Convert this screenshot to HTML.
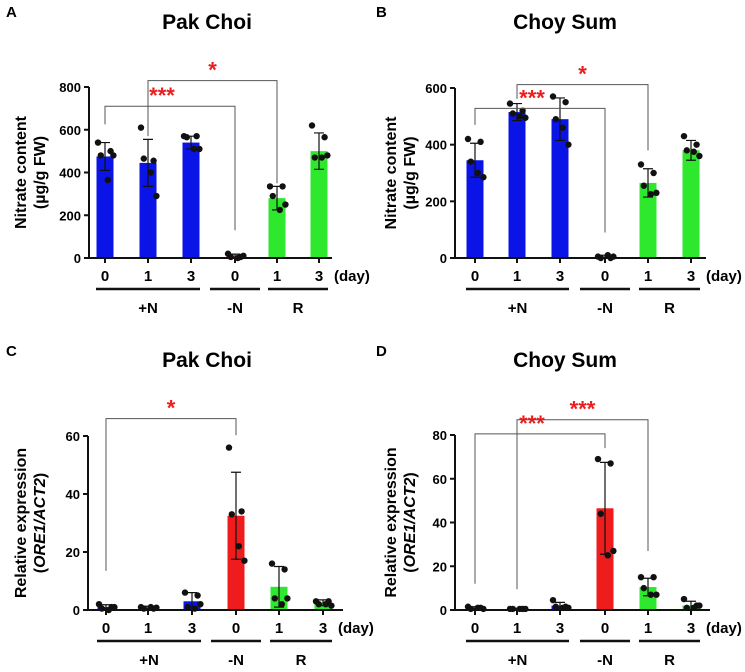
<!DOCTYPE html>
<html><head><meta charset="utf-8"><style>
html,body{margin:0;padding:0;background:#fff;}
svg{display:block;font-family:"Liberation Sans",Arial,sans-serif;font-weight:bold;}
</style></head><body>
<svg id="fig" width="745" height="672" viewBox="0 0 745 672"></svg>
<script>
const categories = ["0","1","3","0","1","3"];
const groupLabels = ["+N","-N","R"];
const barColors = ["#0a14e6","#0a14e6","#0a14e6","#ee1c1c","#2ee82e","#2ee82e"];

const aMeans = [475,445,540,8,280,500];
const aErr = [65,110,30,10,55,85];
const aPts = [[540,500,480,365,480],[610,455,465,400,290],[570,570,565,510,510],[20,5,5,0,10],[335,335,290,225,250],[620,565,470,470,480]];
const aTicks = [0,200,400,600,800];

const bMeans = [345,515,490,5,265,380];
const bErr = [60,30,75,5,50,35];
const bPts = [[420,410,340,300,285],[545,520,510,500,495],[570,550,490,460,400],[5,0,0,10,5],[330,300,255,225,230],[430,400,380,375,360]];
const bTicks = [0,200,400,600];

const cMeans = [1,0.8,3,32.5,8,2.5];
const cErr = [0.8,0.5,3,15,7,1];
const cPts = [[2,1,0.5,0,1],[1,0.5,0.5,1,0.8],[6,5,1,0.5,2],[56,34,33,22,17],[16,14,4,2,4],[3,3,2,2,1.5]];
const cTicks = [0,20,40,60];

const dMeans = [1,0.5,2,46.5,10.5,2];
const dErr = [0.5,0.3,1.5,21,4,2];
const dPts = [[1.5,1,0.5,1,0.5],[0.5,0.5,0.5,0.5,0.5],[4.5,1.5,1.5,1,1],[69,67,44,25,27],[15,15,10,7,7],[5,2,1,1,2]];
const dTicks = [0,20,40,60,80];

const NS="http://www.w3.org/2000/svg";
const svg=document.getElementById('fig');
function mk(tag,attrs,parent,text){const e=document.createElementNS(NS,tag);for(const k in attrs)e.setAttribute(k,attrs[k]);if(text!==undefined)e.textContent=text;(parent||svg).appendChild(e);return e;}

function panel(p){
  const g=mk('g',{});
  
  
  const y=v=>p.y0-(v/p.max)*(p.y0-p.yTop);
  const x=i=>p.xs[i];
  const t=mk('text',{x:p.lx,y:p.ly,'font-size':15},g,p.id);
  
  const ti=mk('text',{x:p.tx,y:p.ty,'font-size':21,'text-anchor':'middle'},g,p.title);
  
  const yl=mk('text',{transform:`translate(${p.ylx},${(p.y0+p.yTop)/2}) rotate(-90)`,'font-size':16,'text-anchor':'middle'},g);
  
  mk('tspan',{x:0,dy:0},yl,p.yl1);
  const s2=mk('tspan',{x:0,dy:19},yl);
  if(p.italic){mk('tspan',{},s2,'(');mk('tspan',{'font-style':'italic'},s2,'ORE1/ACT2');mk('tspan',{},s2,')');}
  else s2.textContent=p.yl2;
  p.means.forEach((m,i)=>{
    const b=mk('rect',{x:x(i)-8.5,y:y(m),width:17,height:p.y0-y(m),fill:barColors[i]},g);
    
    const e=mk('path',{d:`M${x(i)} ${y(m)}V${y(m+p.err[i])}M${x(i)-5} ${y(m+p.err[i])}H${x(i)+5}M${x(i)} ${y(m)}V${y(Math.max(0,m-p.err[i]))}M${x(i)-5} ${y(Math.max(0,m-p.err[i]))}H${x(i)+5}`,stroke:'#111','stroke-width':1.2,fill:'none'},g);
    
    const offs=[-5,4,-3,2,6];
    p.pts[i].forEach((v,j)=>{
      const c=mk('circle',{cx:x(i)+offs[j]*1.4,cy:y(v),r:3.2,fill:'#111'},g);
      
    });
  });
  const ax=mk('path',{d:`M${p.xAx} ${y(p.max)}V${p.y0}H${p.xEnd}`,stroke:'#111','stroke-width':2,fill:'none'},g);
  
  p.ticks.forEach(v=>{
    mk('line',{x1:p.xAx-5,x2:p.xAx,y1:y(v),y2:y(v),stroke:'#111','stroke-width':2},g);
    const tl=mk('text',{x:p.xAx-8,y:y(v)+5,'font-size':13,'text-anchor':'end'},g,v);
    
  });
  categories.forEach((c,i)=>{
    mk('line',{x1:x(i),x2:x(i),y1:p.y0,y2:p.y0+5,stroke:'#111','stroke-width':2},g);
    const tl=mk('text',{x:x(i),y:p.y0+23,'font-size':15,'text-anchor':'middle'},g,c);
    
  });
  const d=mk('text',{x:x(5)+15,y:p.y0+23,'font-size':15},g,'(day)');
  
  const spans=[[0,2],[3,3],[4,5]];
  spans.forEach((s,k)=>{
    const x1=x(s[0])-9,x2=x(s[1])+9;
    const ul=mk('line',{x1:x1-(k==1?16:0),x2:x2+(k==1?16:0),y1:p.y0+31,y2:p.y0+31,stroke:'#111','stroke-width':2.5},g);
    
    const gl=mk('text',{x:(x1+x2)/2,y:p.y0+55,'font-size':15,'text-anchor':'middle'},g,groupLabels[k]);
    
  });
  p.brackets.forEach(br=>{
    const bp=mk('path',{d:`M${x(br[0])} ${y(br[3])}V${y(br[2])}H${x(br[1])}V${y(br[4])}`,stroke:'#555','stroke-width':1,fill:'none'},g);
    
    const st=mk('text',{x:(x(br[0])+x(br[1]))/2+br[6],y:y(br[2])-3,'font-size':22,fill:'#ee1c1c','text-anchor':'middle'},g,br[5]);
    
  });
}
const xsL=[105,148,191,235,277,319], xsR=[475,517,560,605,648,691];
panel({id:'A',title:'Pak Choi',lx:6,ly:17,tx:207,ty:29,ylx:26,yl1:'Nitrate content',yl2:'(µg/g FW)',
  y0:258,yTop:87,max:800,xs:xsL,xAx:89,xEnd:332,means:aMeans,err:aErr,pts:aPts,ticks:aTicks,
  brackets:[[0,3,710,625,130,'***',-8],[1,4,830,570,350,'*',0]]});
panel({id:'B',title:'Choy Sum',lx:376,ly:17,tx:565,ty:29,ylx:396,yl1:'Nitrate content',yl2:'(µg/g FW)',
  y0:258,yTop:88,max:600,xs:xsR,xAx:455,xEnd:706,means:bMeans,err:bErr,pts:bPts,ticks:bTicks,
  brackets:[[0,3,528,470,90,'***',-8],[1,4,612,562,380,'*',0]]});
panel({id:'C',title:'Pak Choi',lx:6,ly:356,tx:207,ty:367,ylx:26,yl1:'Relative expression',italic:true,
  y0:610,yTop:436,max:60,xs:[106,148,192,236,279,323],xAx:88,xEnd:343,means:cMeans,err:cErr,pts:cPts,ticks:cTicks,
  brackets:[[0,3,66,13.5,60.3,'*',0]]});
panel({id:'D',title:'Choy Sum',lx:376,ly:356,tx:565,ty:367,ylx:396,yl1:'Relative expression',italic:true,
  y0:610,yTop:435,max:80,xs:xsR,xAx:455,xEnd:710,means:dMeans,err:dErr,pts:dPts,ticks:dTicks,
  brackets:[[0,3,80.5,12,74,'***',-8],[1,4,87,9.5,27,'***',0]]});
</script>
</body></html>
